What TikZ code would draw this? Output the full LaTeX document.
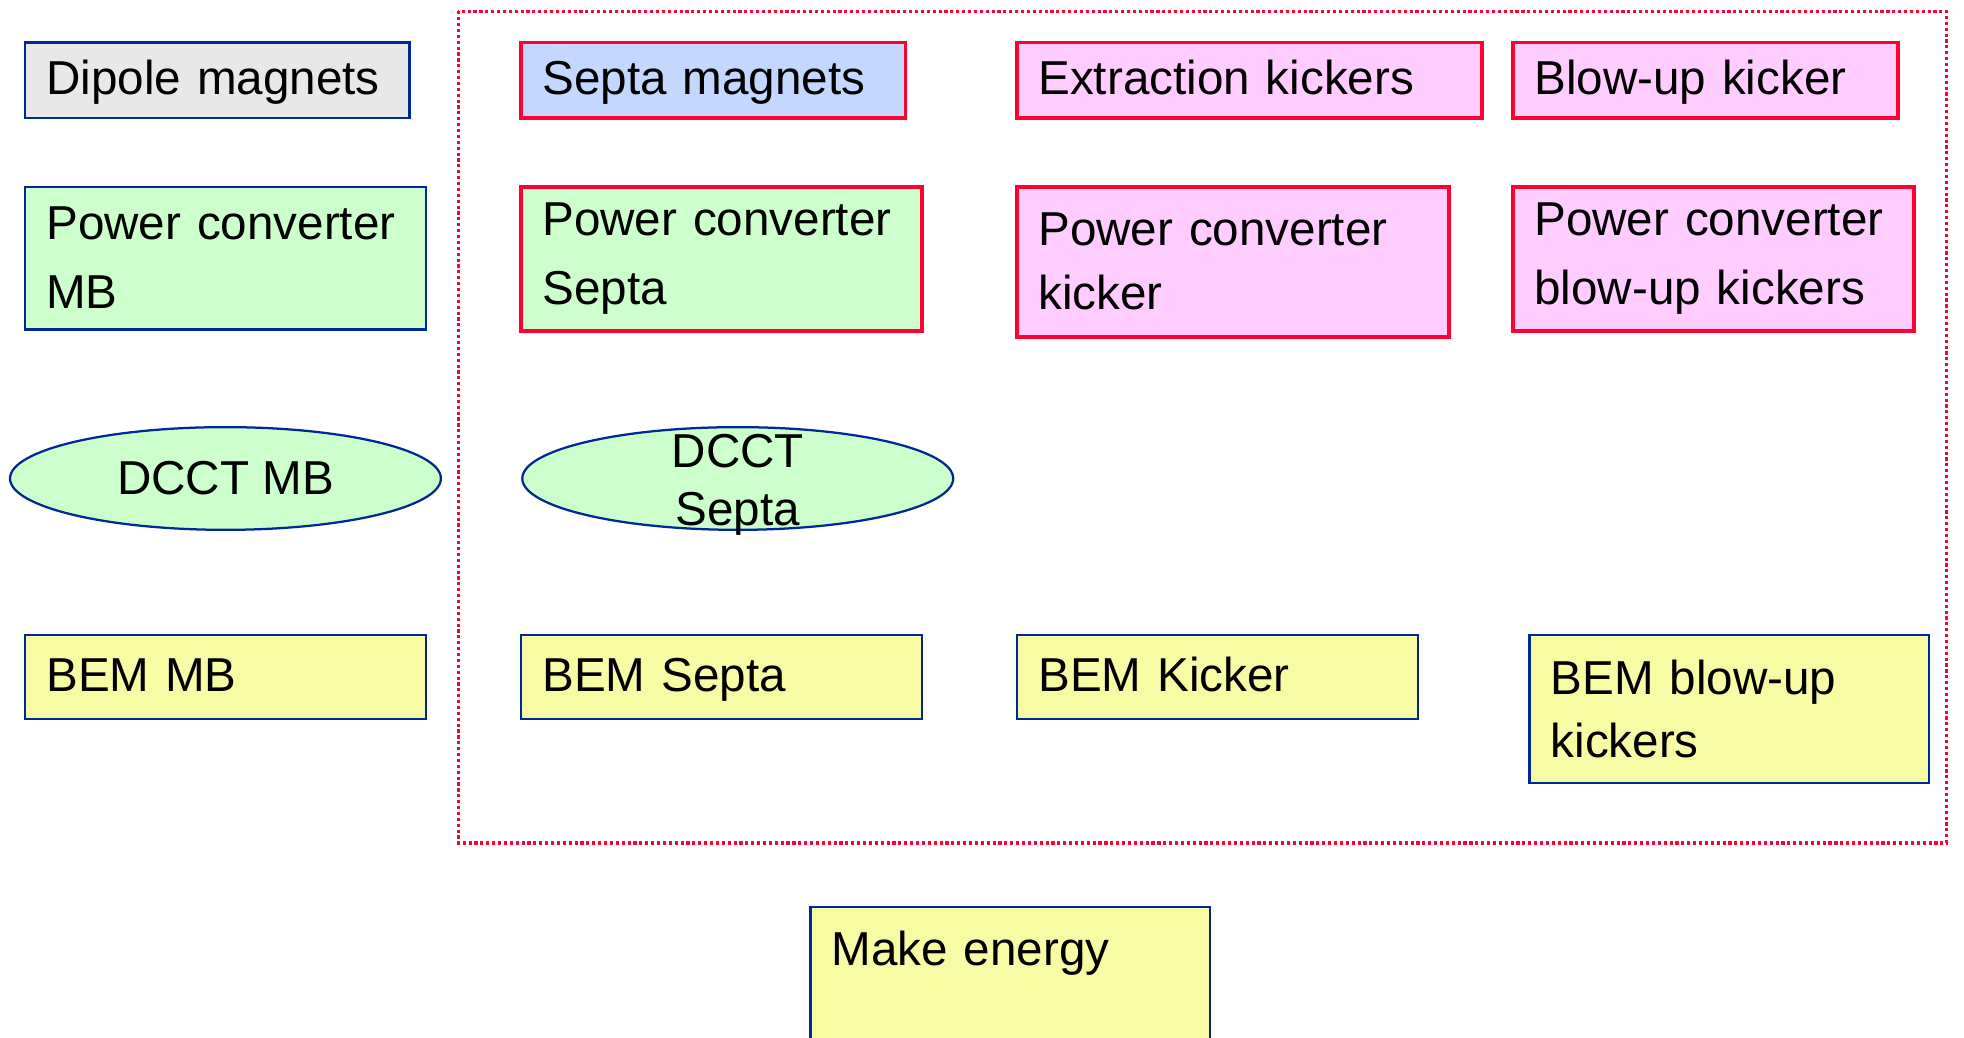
\documentclass[tikz,border=0pt]{standalone}
\usepackage{fontspec}
\setmainfont{Liberation Sans}
\usetikzlibrary{shapes.geometric}

\definecolor{edgeblue}{RGB}{0,40,150}
\definecolor{edgered}{RGB}{255,0,51}
\definecolor{fillgray}{RGB}{232,232,232}
\definecolor{fillblue}{RGB}{196,216,255}
\definecolor{fillpink}{RGB}{255,204,255}
\definecolor{fillgreen}{RGB}{204,255,204}
\definecolor{fillyellow}{RGB}{247,252,164}

\tikzset{
  lbl/.style={font=\fontsize{38}{55}\selectfont, align=left, anchor=north west,
              inner xsep=17pt, inner ysep=0pt, outer sep=0pt},
  bluebox/.style={lbl, draw=edgeblue, line width=1.8pt},
  redbox/.style={lbl, draw=edgered, line width=3pt},
  % single-line boxes: fixed baseline so capitals sit near mid-height
  oneline/.style={text height=#1/2+11.6pt, text depth=#1/2-11.6pt},
  ell/.style={ellipse, draw=edgeblue, line width=1.8pt, fill=fillgreen,
              minimum width=344pt, minimum height=82pt, inner sep=0pt},
  elltext/.style={font=\fontsize{38}{46}\selectfont, align=center, inner sep=0pt},
  frame/.style={draw=edgered, line width=2.5pt, dash pattern=on 2.5pt off 2.2pt},
}

\begin{document}
\begin{tikzpicture}[x=1pt, y=-1pt]
  \useasboundingbox (0,0) rectangle (1568,828);
  \clip (0,0) rectangle (1568,828);

  % group frame
  \draw[frame] (366,9) rectangle (1554,673);

  % magnets
  \node[bluebox, fill=fillgray, minimum width=307pt, oneline=60pt, text width=273pt]
    (dipole) at (20,34) {Dipole magnets};
  \node[redbox, fill=fillblue, minimum width=307pt, oneline=60pt, text width=273pt]
    (septa) at (416,34) {Septa magnets};
  \node[redbox, fill=fillpink, minimum width=371pt, oneline=60pt, text width=337pt]
    (extr) at (812,34) {Extraction kickers};
  \node[redbox, fill=fillpink, minimum width=307pt, oneline=60pt, text width=273pt]
    (blowup) at (1208,34) {Blow-up kicker};

  % power converters
  \node[bluebox, fill=fillgreen, minimum width=320pt, minimum height=114pt, text width=286pt]
    (pcMB) at (20,149) {Power converter\\MB};
  \node[redbox, fill=fillgreen, minimum width=320pt, minimum height=115pt, text width=286pt]
    (pcSepta) at (416,149) {Power converter\\Septa};
  \node[redbox, fill=fillpink, minimum width=345pt, minimum height=120pt, text width=311pt,
        font=\fontsize{38}{51}\selectfont]
    (pcKick) at (812,149) {Power converter\\kicker};
  \node[redbox, fill=fillpink, minimum width=320pt, minimum height=115pt, text width=286pt]
    (pcBlow) at (1208,149) {Power converter\\blow-up kickers};

  % current transformers
  \node[ell] (dcctMB) at (180,382) {};
  \node[elltext] (dcctMBt) at (dcctMB.center) {DCCT MB};
  \node[ell] (dcctSepta) at (589,382) {};
  \node[elltext, yshift=-5pt] (dcctSeptat) at (dcctSepta.center) {DCCT\\Septa};

  % beam energy meters
  \node[bluebox, fill=fillyellow, minimum width=320pt, oneline=67pt, text width=286pt]
    (bemMB) at (20,507) {BEM MB};
  \node[bluebox, fill=fillyellow, minimum width=320pt, oneline=67pt, text width=286pt]
    (bemSepta) at (416,507) {BEM Septa};
  \node[bluebox, fill=fillyellow, minimum width=320pt, oneline=67pt, text width=286pt]
    (bemKick) at (812,507) {BEM Kicker};
  \node[bluebox, fill=fillyellow, minimum width=319pt, minimum height=118pt, text width=285pt,
        font=\fontsize{38}{50}\selectfont]
    (bemBlow) at (1221,507) {BEM blow-up\\kickers};

  % energy (runs on below the lower edge)
  \node[bluebox, fill=fillyellow, minimum width=319pt, text width=285pt,
        text height=46.5pt, text depth=103.5pt]
    (make) at (647,724) {Make energy};
\end{tikzpicture}
\end{document}
